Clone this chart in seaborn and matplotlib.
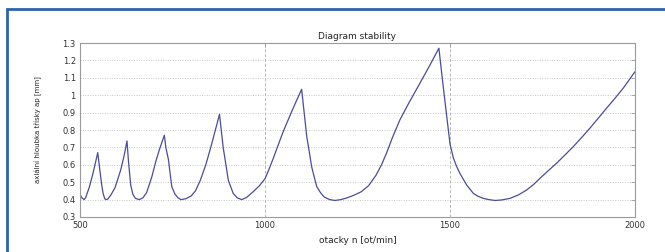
import pandas as pd
import matplotlib
matplotlib.use("Agg")
import matplotlib.pyplot as plt
import seaborn as sns
from matplotlib.patches import Rectangle

# otacky n [ot/min]
otacky = [500, 505, 511, 515, 525, 535, 548,
          553, 559, 563, 567, 570, 575, 583, 595, 610, 620, 627,
          631, 637, 643, 650, 660, 670, 680, 694, 705, 715, 728,
          732, 739, 748, 757, 765, 773, 786, 800, 812, 825, 840, 856, 877,
          887, 901, 908, 914, 925, 937, 950, 968, 985, 1000, 1010, 1022, 1035, 1049, 1076, 1099,
          1113, 1117, 1126, 1133, 1140, 1150, 1160, 1175, 1189, 1205, 1222, 1240, 1260, 1280, 1300, 1315,
          1329, 1345, 1365, 1390, 1419, 1445, 1470,
          1480, 1490, 1500, 1509, 1518, 1527, 1545, 1563, 1575, 1590, 1605, 1622, 1640, 1662, 1685, 1707,
          1725, 1743, 1765, 1788, 1810, 1833, 1855, 1878, 1900, 1923, 1945, 1968, 2000]
# axialni hloubka trisky ap [mm]
hloubka = [0.43, 0.41, 0.40, 0.41, 0.47, 0.55, 0.67,
           0.58, 0.48, 0.43, 0.405, 0.40, 0.403, 0.425, 0.47, 0.57, 0.66, 0.737,
           0.62, 0.484, 0.43, 0.407, 0.40, 0.41, 0.44, 0.53, 0.62, 0.69, 0.77,
           0.70, 0.63, 0.474, 0.43, 0.41, 0.40, 0.405, 0.42, 0.45, 0.51, 0.60, 0.72, 0.89,
           0.70, 0.51, 0.47, 0.436, 0.41, 0.40, 0.412, 0.445, 0.48, 0.52, 0.57, 0.635, 0.71, 0.79, 0.925, 1.034,
           0.76, 0.71, 0.59, 0.53, 0.474, 0.44, 0.415, 0.40, 0.395, 0.40, 0.41, 0.425, 0.445, 0.48, 0.54, 0.60,
           0.67, 0.76, 0.86, 0.96, 1.07, 1.17, 1.27,
           1.08, 0.90, 0.72, 0.64, 0.59, 0.55, 0.484, 0.436, 0.42, 0.407, 0.40, 0.395, 0.398, 0.407, 0.427, 0.455,
           0.485, 0.522, 0.565, 0.609, 0.655, 0.704, 0.755, 0.81, 0.866, 0.925, 0.98, 1.04, 1.135]

x_ticks = [500, 1000, 1500, 2000]
y_ticks = [0.3, 0.4, 0.5, 0.6, 0.7, 0.8, 0.9, 1, 1.1, 1.2, 1.3]
y_tick_labels = ['0.3', '0.4', '0.5', '0.6', '0.7', '0.8', '0.9', '1', '1.1', '1.2', '1.3']

df = pd.DataFrame({'otacky': otacky, 'hloubka': hloubka})

sns.set_style("white")
plt.rcParams['font.family'] = ['DejaVu Sans']

fig = plt.figure(figsize=(6.65, 2.52), dpi=100)
ax = fig.add_axes([80 / 665, 35 / 252, 555 / 665, 174 / 252])

sns.lineplot(data=df, x='otacky', y='hloubka', ax=ax, color='#4b4b9c', linewidth=0.9, sort=False)

ax.set_xlim(500, 2000)
ax.set_ylim(0.3, 1.3)
ax.set_xticks(x_ticks)
ax.set_yticks(y_ticks)
ax.set_yticklabels(y_tick_labels)
ax.tick_params(direction='in', length=3, width=0.6, colors='#999999', labelcolor='#333333',
               labelsize=6, top=True, right=True, pad=3)

# matlab-like grid
for y in y_ticks[1:-1]:
    ax.axhline(y, color='#c8c8c8', linestyle=(0, (1, 1.5)), linewidth=0.7, zorder=0)
for x in x_ticks[1:-1]:
    ax.axvline(x, color='#b5b5b5', linestyle=(0, (3, 2)), linewidth=0.7, zorder=0)

for s in ax.spines.values():
    s.set_color('#9a9a9a')
    s.set_linewidth(0.8)

ax.set_title('Diagram stability', fontsize=6.5, pad=3, color='#222222')
ax.set_xlabel('otacky n [ot/min]', fontsize=6.5, labelpad=4, color='#222222')
ax.set_ylabel('axiální hloubka třísky ap [mm]', fontsize=5, labelpad=15, color='#222222',
              family=['Liberation Sans Narrow', 'DejaVu Sans'])

# blue frame around the picture
fig.patches.append(Rectangle((7 / 665, -0.2), 1.2, (252 - 9) / 252 + 0.2, transform=fig.transFigure,
                             fill=False, edgecolor='#2b62ad', linewidth=2))

plt.savefig('out.png', dpi=100)
plt.close(fig)
